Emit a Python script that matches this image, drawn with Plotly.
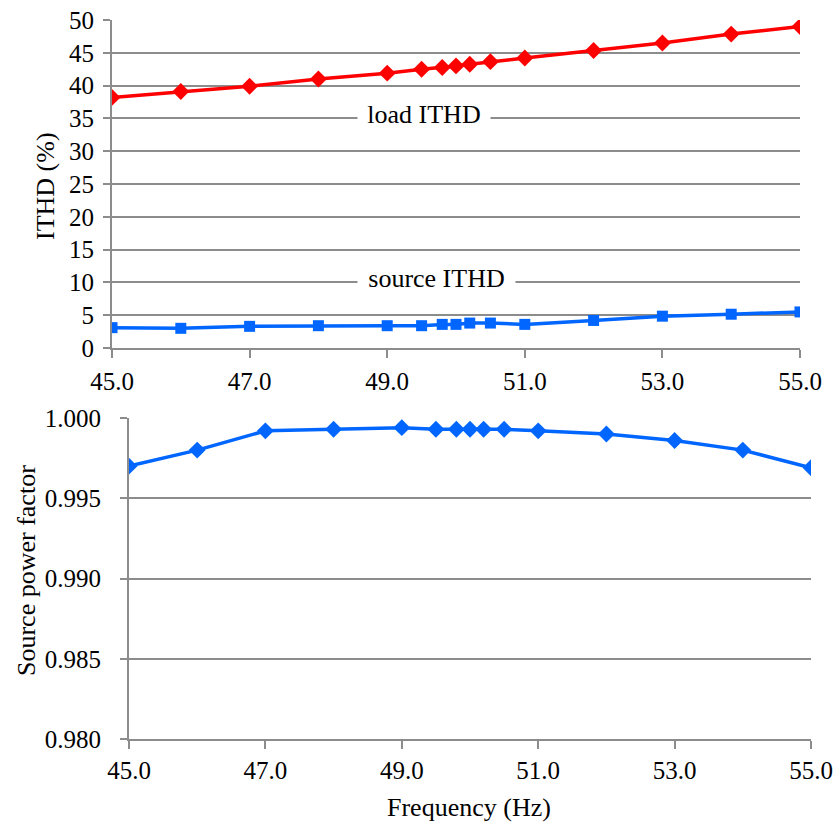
import plotly.graph_objects as go

freq = [45, 46, 47, 48, 49, 49.5, 49.8, 50, 50.2, 50.5, 51, 52, 53, 54, 55]
load_ithd = [38.2, 39.1, 39.9, 41.0, 41.9, 42.5, 42.75, 43.0, 43.25, 43.65, 44.2, 45.35, 46.5, 47.85, 49.0]
source_ithd = [3.1, 3.0, 3.3, 3.4, 3.4, 3.4, 3.6, 3.6, 3.8, 3.8, 3.6, 4.2, 4.85, 5.15, 5.5]
source_pf = [0.9970, 0.9980, 0.9992, 0.9993, 0.9994, 0.9993, 0.9993, 0.9993, 0.9993, 0.9993, 0.9992, 0.9990, 0.9986, 0.9980, 0.9969]

x_ticks = [45, 47, 49, 51, 53, 55]
ithd_ticks = list(range(0, 51, 5))
pf_ticks = [0.980, 0.985, 0.990, 0.995, 1.000]

W, H = 835, 826
FONT = "Liberation Serif, Times New Roman, serif"
RED = "#FF0000"
BLUE = "#0066FF"
GRID = "#8C8C8C"

def px_x(a, b):
    return [a / W, b / W]

def px_y(top, bottom):
    return [1 - bottom / H, 1 - top / H]

fig = go.Figure()
fig.add_trace(go.Scatter(x=freq, y=load_ithd, mode="lines+markers", xaxis="x", yaxis="y",
                         line=dict(color=RED, width=3.5),
                         marker=dict(symbol="diamond", size=13, color=RED)))
fig.add_trace(go.Scatter(x=freq, y=source_ithd, mode="lines+markers", xaxis="x", yaxis="y",
                         line=dict(color=BLUE, width=3.5),
                         marker=dict(symbol="square", size=11, color=BLUE)))
fig.add_trace(go.Scatter(x=freq, y=source_pf, mode="lines+markers", xaxis="x2", yaxis="y2",
                         line=dict(color=BLUE, width=3.5),
                         marker=dict(symbol="diamond", size=13, color=BLUE)))

tickfont = dict(family=FONT, size=25, color="black")
common_x = dict(range=[45, 55], tickvals=x_ticks, ticktext=[f"{v:.1f}" for v in x_ticks],
                showgrid=False, zeroline=False, showline=True, linecolor=GRID, linewidth=2,
                ticks="outside", ticklen=8, tickwidth=2, tickcolor=GRID, tickfont=tickfont,
                automargin=False)
common_y = dict(showgrid=True, gridcolor=GRID, gridwidth=2, zeroline=False, showline=True,
                linecolor=GRID, linewidth=2, ticks="outside", ticklen=7, tickwidth=2,
                tickcolor=GRID, tickfont=tickfont, automargin=False)

fig.update_layout(
    width=W, height=H, margin=dict(l=0, r=0, t=0, b=0, autoexpand=False),
    paper_bgcolor="white", plot_bgcolor="white", showlegend=False,
    font=dict(family=FONT),
    xaxis=dict(domain=px_x(112, 800), anchor="y", ticklabelstandoff=2, **common_x),
    yaxis=dict(domain=px_y(20, 348), anchor="x", range=[0, 50], tickvals=ithd_ticks,
               ticklabelstandoff=4, **common_y),
    xaxis2=dict(domain=px_x(129, 811), anchor="y2", ticklabelstandoff=0, **common_x),
    yaxis2=dict(domain=px_y(418, 739), anchor="x2", range=[0.980, 1.000], tickvals=pf_ticks,
                ticktext=[f"{v:.3f}" for v in pf_ticks], ticklabelstandoff=14, **common_y),
)

annfont = dict(family=FONT, size=26, color="black")
fig.add_annotation(x=49.53, y=35, xref="x", yref="y", text="load ITHD", showarrow=False,
                   font=annfont, bgcolor="white", borderpad=0, xanchor="center", yanchor="middle",
                   width=132, yshift=4)
fig.add_annotation(x=49.72, y=10, xref="x", yref="y", text="source ITHD", showarrow=False,
                   font=annfont, bgcolor="white", borderpad=0, xanchor="center", yanchor="middle",
                   width=157, yshift=4)
fig.add_annotation(x=45 / W, y=1 - 186 / H, xref="paper", yref="paper", text="ITHD (%)",
                   showarrow=False, textangle=-90, font=annfont, xanchor="center", yanchor="middle")
fig.add_annotation(x=26 / W, y=1 - 571 / H, xref="paper", yref="paper", text="Source power factor",
                   showarrow=False, textangle=-90, font=annfont, xanchor="center", yanchor="middle")
fig.add_annotation(x=469 / W, y=1 - 807 / H, xref="paper", yref="paper", text="Frequency (Hz)",
                   showarrow=False, font=annfont, xanchor="center", yanchor="middle")

fig.write_html("out.html")
